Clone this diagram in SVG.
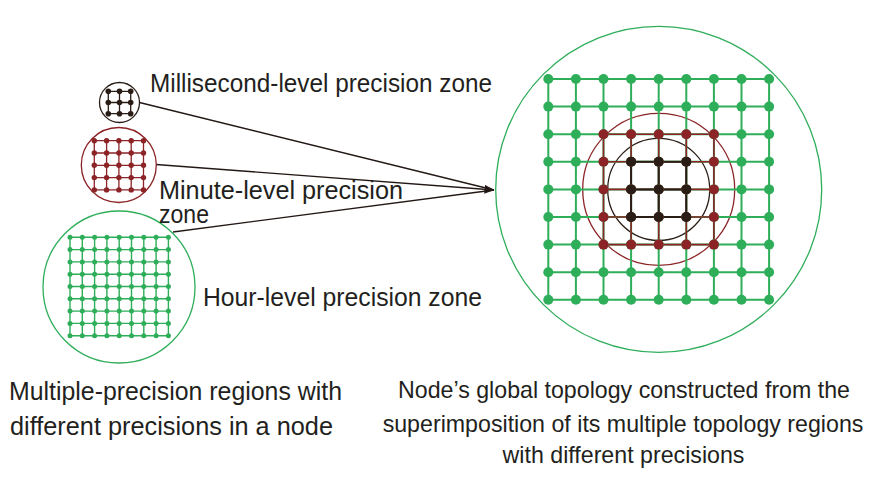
<svg xmlns="http://www.w3.org/2000/svg" width="888" height="499" viewBox="0 0 888 499">
<style>
.txt{font-family:"Liberation Sans",Arial,sans-serif;font-size:26px;fill:#231f20}
.txr{font-family:"Liberation Sans",Arial,sans-serif;font-size:23.2px;fill:#231f20;text-anchor:middle}
.gl{fill:none;stroke:#2fae5a}
.rl{fill:none;stroke:#8c2427}
.kl{fill:none;stroke:#2a1d16}
.gd{fill:#2fae5a}
.rd{fill:#8c2427}
.kd{fill:#2a1d16}
.ring{fill:none;stroke-width:1.3}
.conn{fill:none;stroke:#231815;stroke-width:1.4}
</style>
<defs>
<marker id="arr" markerUnits="userSpaceOnUse" markerWidth="10" markerHeight="9" refX="9.5" refY="4.5" orient="auto">
<path d="M0,0 L10,4.5 L0,9 Z" fill="#231815"/>
</marker>
<g id="bg9"><circle cx="0" cy="0" r="5"/><circle cx="27.6" cy="0" r="5"/><circle cx="55.2" cy="0" r="5"/><circle cx="82.8" cy="0" r="5"/><circle cx="110.4" cy="0" r="5"/><circle cx="138" cy="0" r="5"/><circle cx="165.6" cy="0" r="5"/><circle cx="193.2" cy="0" r="5"/><circle cx="220.8" cy="0" r="5"/></g>
<g id="br5"><circle cx="55.2" cy="0" r="5"/><circle cx="82.8" cy="0" r="5"/><circle cx="110.4" cy="0" r="5"/><circle cx="138" cy="0" r="5"/><circle cx="165.6" cy="0" r="5"/></g>
<g id="bk3"><circle cx="82.8" cy="0" r="5"/><circle cx="110.4" cy="0" r="5"/><circle cx="138" cy="0" r="5"/></g>
<g id="sg9"><circle cx="0" cy="0" r="2.5"/><circle cx="12.3" cy="0" r="2.5"/><circle cx="24.6" cy="0" r="2.5"/><circle cx="36.9" cy="0" r="2.5"/><circle cx="49.2" cy="0" r="2.5"/><circle cx="61.5" cy="0" r="2.5"/><circle cx="73.8" cy="0" r="2.5"/><circle cx="86.1" cy="0" r="2.5"/><circle cx="98.4" cy="0" r="2.5"/></g>
<g id="sr5"><circle cx="0" cy="0" r="2.7"/><circle cx="12.3" cy="0" r="2.7"/><circle cx="24.6" cy="0" r="2.7"/><circle cx="36.9" cy="0" r="2.7"/><circle cx="49.2" cy="0" r="2.7"/></g>
<g id="sk3"><circle cx="0" cy="0" r="2.8"/><circle cx="11.2" cy="0" r="2.8"/><circle cx="22.4" cy="0" r="2.8"/></g>
</defs>

<g id="connectors">
<line class="conn" x1="139.5" y1="102.5" x2="494" y2="190"/>
<line class="conn" x1="156" y1="164.5" x2="494" y2="190" marker-end="url(#arr)"/>
<line class="conn" x1="173" y1="232" x2="494" y2="190"/>
</g>

<g id="ms-zone">
<circle class="ring" cx="119.5" cy="102.5" r="20" stroke="#2a1d16"/>
<g transform="translate(108.3,91.3)">
<path class="kl" stroke-width="1.3" d="M0,0H22.4M0,11.2H22.4M0,22.4H22.4M0,0V22.4M11.2,0V22.4M22.4,0V22.4"/>
<g class="kd"><use href="#sk3"/><use href="#sk3" y="11.2"/><use href="#sk3" y="22.4"/></g>
</g>
</g>

<g id="min-zone">
<circle class="ring" cx="118.8" cy="165" r="37.5" stroke="#8c2427"/>
<g transform="translate(94.3,140.7)">
<path class="rl" stroke-width="1.3" d="M0,0H49.2M0,12.3H49.2M0,24.6H49.2M0,36.9H49.2M0,49.2H49.2M0,0V49.2M12.3,0V49.2M24.6,0V49.2M36.9,0V49.2M49.2,0V49.2"/>
<g class="rd"><use href="#sr5"/><use href="#sr5" y="12.3"/><use href="#sr5" y="24.6"/><use href="#sr5" y="36.9"/><use href="#sr5" y="49.2"/></g>
</g>
</g>

<g id="hour-zone">
<circle class="ring" cx="119" cy="287" r="76" stroke="#2fae5a"/>
<g transform="translate(70,237.3)">
<path class="gl" stroke-width="1.4" d="M0,0H98.4M0,12.3H98.4M0,24.6H98.4M0,36.9H98.4M0,49.2H98.4M0,61.5H98.4M0,73.8H98.4M0,86.1H98.4M0,98.4H98.4M0,0V98.4M12.3,0V98.4M24.6,0V98.4M36.9,0V98.4M49.2,0V98.4M61.5,0V98.4M73.8,0V98.4M86.1,0V98.4M98.4,0V98.4"/>
<g class="gd"><use href="#sg9"/><use href="#sg9" y="12.3"/><use href="#sg9" y="24.6"/><use href="#sg9" y="36.9"/><use href="#sg9" y="49.2"/><use href="#sg9" y="61.5"/><use href="#sg9" y="73.8"/><use href="#sg9" y="86.1"/><use href="#sg9" y="98.4"/></g>
</g>
</g>

<g id="global-topology">
<circle class="ring" cx="658.7" cy="189.4" r="163" stroke="#2fae5a"/>
<circle class="ring" cx="658.7" cy="189.4" r="76" stroke="#8c2427"/>
<circle class="ring" cx="658.7" cy="189.4" r="51" stroke="#2a1d16" stroke-width="1.6"/>
<g transform="translate(548.3,79)">
<path class="gl" stroke-width="2" d="M0,0H220.8M0,27.6H220.8M0,55.2H220.8M0,82.8H220.8M0,110.4H220.8M0,138H220.8M0,165.6H220.8M0,193.2H220.8M0,220.8H220.8M0,0V220.8M27.6,0V220.8M55.2,0V220.8M82.8,0V220.8M110.4,0V220.8M138,0V220.8M165.6,0V220.8M193.2,0V220.8M220.8,0V220.8"/>
<path class="rl" stroke-width="1.6" d="M55.2,55.2H165.6M55.2,82.8H165.6M55.2,110.4H165.6M55.2,138H165.6M55.2,165.6H165.6M55.2,55.2V165.6M82.8,55.2V165.6M110.4,55.2V165.6M138,55.2V165.6M165.6,55.2V165.6"/>
<path class="kl" stroke-width="2" d="M82.8,82.8H138M82.8,110.4H138M82.8,138H138M82.8,82.8V138M110.4,82.8V138M138,82.8V138"/>
<g class="gd"><use href="#bg9"/><use href="#bg9" y="27.6"/><use href="#bg9" y="55.2"/><use href="#bg9" y="82.8"/><use href="#bg9" y="110.4"/><use href="#bg9" y="138"/><use href="#bg9" y="165.6"/><use href="#bg9" y="193.2"/><use href="#bg9" y="220.8"/></g>
<g class="rd"><use href="#br5" y="55.2"/><use href="#br5" y="82.8"/><use href="#br5" y="110.4"/><use href="#br5" y="138"/><use href="#br5" y="165.6"/></g>
<g class="kd"><use href="#bk3" y="82.8"/><use href="#bk3" y="110.4"/><use href="#bk3" y="138"/></g>
</g>
</g>

<g id="labels">
<text class="txt" x="150" y="92" textLength="342" lengthAdjust="spacingAndGlyphs">Millisecond-level precision zone</text>
<text class="txt" x="159" y="199" textLength="244" lengthAdjust="spacingAndGlyphs">Minute-level precision</text>
<text class="txt" x="159" y="223" textLength="50" lengthAdjust="spacingAndGlyphs">zone</text>
<text class="txt" x="203" y="306" textLength="279" lengthAdjust="spacingAndGlyphs">Hour-level precision zone</text>
<text class="txt" x="9" y="400" textLength="333" lengthAdjust="spacingAndGlyphs">Multiple-precision regions with</text>
<text class="txt" x="10" y="435" textLength="323" lengthAdjust="spacingAndGlyphs">different precisions in a node</text>
<text class="txr" x="624" y="398">Node’s global topology constructed from the</text>
<text class="txr" x="623" y="432">superimposition of its multiple topology regions</text>
<text class="txr" x="623.5" y="463">with different precisions</text>
</g>
</svg>
